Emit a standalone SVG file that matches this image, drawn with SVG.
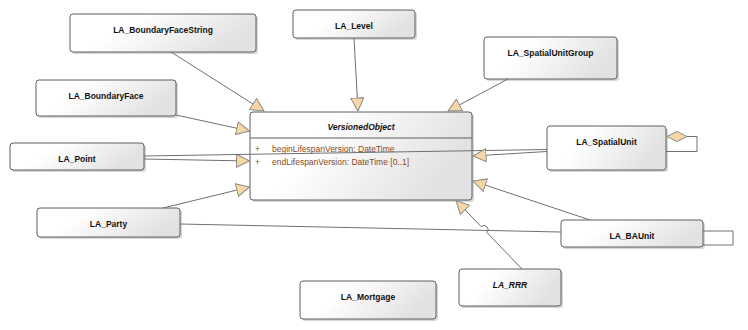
<svg xmlns="http://www.w3.org/2000/svg" width="748" height="330" viewBox="0 0 748 330">
  <defs>
    <linearGradient id="nodeFill" x1="0" y1="0" x2="1" y2="0.3">
      <stop offset="0" stop-color="#ffffff"/>
      <stop offset="0.35" stop-color="#ffffff"/>
      <stop offset="1" stop-color="#e2e2e2"/>
    </linearGradient>
    <marker id="gen" viewBox="0 0 14 14" markerWidth="14" markerHeight="14" refX="13.5" refY="7" orient="auto" markerUnits="userSpaceOnUse">
      <path d="M0.5,0.5 L13.5,7 L0.5,13.5 Z" fill="#f8d7a6" stroke="#8a8a8a" stroke-width="1"/>
    </marker>
    <style>
      .box { fill: url(#nodeFill); stroke: #5f5f5f; stroke-width: 1; }
      .shadow { fill: #d6d6d6; }
      .name { font-family: "Liberation Sans", Arial, sans-serif; font-size: 8.5px; font-weight: bold; fill: #111; text-anchor: middle; }
      .abstract { font-style: italic; }
      .attr { font-family: "Liberation Sans", Arial, sans-serif; font-size: 8.5px; fill: #8a4a1c; }
      .edge { fill: none; stroke: #707070; stroke-width: 1; }
      .gen { marker-end: url(#gen); }
    </style>
  </defs>

  <g id="LA_BoundaryFaceString">
    <rect class="shadow" x="72" y="16" width="186" height="38" rx="3"/>
    <rect class="box" x="70" y="14" width="186" height="38" rx="3"/>
    <text class="name" x="163" y="33">LA_BoundaryFaceString</text>
  </g>

  <g id="LA_Level">
    <rect class="shadow" x="295" y="12" width="122" height="28" rx="3"/>
    <rect class="box" x="293" y="10" width="122" height="28" rx="3"/>
    <text class="name" x="354" y="29">LA_Level</text>
  </g>

  <g id="LA_SpatialUnitGroup">
    <rect class="shadow" x="486" y="39" width="133" height="42" rx="3"/>
    <rect class="box" x="484" y="37" width="133" height="42" rx="3"/>
    <text class="name" x="550.5" y="56">LA_SpatialUnitGroup</text>
  </g>

  <g id="LA_BoundaryFace">
    <rect class="shadow" x="38" y="82" width="140" height="36" rx="3"/>
    <rect class="box" x="36" y="80" width="140" height="36" rx="3"/>
    <text class="name" x="106" y="99">LA_BoundaryFace</text>
  </g>

  <g id="VersionedObject">
    <rect class="shadow" x="252" y="114" width="222" height="88" rx="3"/>
    <rect class="box" x="250" y="112" width="222" height="88" rx="3"/>
    <line x1="250" y1="138" x2="472" y2="138" stroke="#5f5f5f" stroke-width="1"/>
    <text class="name abstract" x="361" y="130">VersionedObject</text>
    <text class="attr" x="255" y="152">+</text>
    <text class="attr" x="272" y="152">beginLifespanVersion: DateTime</text>
    <text class="attr" x="255" y="165">+</text>
    <text class="attr" x="272" y="165">endLifespanVersion: DateTime [0..1]</text>
  </g>

  <g id="LA_Point">
    <rect class="shadow" x="12" y="145" width="134" height="27" rx="3"/>
    <rect class="box" x="10" y="143" width="134" height="27" rx="3"/>
    <text class="name" x="77" y="162">LA_Point</text>
  </g>

  <g id="LA_SpatialUnit">
    <rect class="shadow" x="549" y="128" width="119" height="44" rx="3"/>
    <rect class="box" x="547" y="126" width="119" height="44" rx="3"/>
    <text class="name" x="606.5" y="145">LA_SpatialUnit</text>
  </g>

  <g id="LA_Party">
    <rect class="shadow" x="39" y="210" width="143" height="29" rx="3"/>
    <rect class="box" x="37" y="208" width="143" height="29" rx="3"/>
    <text class="name" x="108.5" y="227">LA_Party</text>
  </g>

  <g id="LA_BAUnit">
    <rect class="shadow" x="563" y="222" width="142" height="27" rx="3"/>
    <rect class="box" x="561" y="220" width="142" height="27" rx="3"/>
    <text class="name" x="632" y="239">LA_BAUnit</text>
  </g>

  <g id="LA_RRR">
    <rect class="shadow" x="461" y="271" width="102" height="37" rx="3"/>
    <rect class="box" x="459" y="269" width="102" height="37" rx="3"/>
    <text class="name abstract" x="510" y="288">LA_RRR</text>
  </g>

  <g id="LA_Mortgage">
    <rect class="shadow" x="302" y="283" width="136" height="38" rx="3"/>
    <rect class="box" x="300" y="281" width="136" height="38" rx="3"/>
    <text class="name" x="368" y="300">LA_Mortgage</text>
  </g>

  <!-- connectors, drawn above the class boxes -->
  <g id="connectors">
    <path class="edge gen" d="M171,52 L264,111"/>
    <path class="edge gen" d="M354,38 L358,111"/>
    <path class="edge gen" d="M508,79 L448,111"/>
    <path class="edge gen" d="M176,115 L249.5,131"/>
    <path class="edge gen" d="M144,159 L249.5,161"/>
    <path class="edge" d="M144,156 L547,149.5"/>
    <path class="edge gen" d="M547,151.5 L473,156"/>
    <path class="edge gen" d="M590,220 L473,181"/>
    <path class="edge gen" d="M163,208 L249.5,187"/>
    <path class="edge" d="M180,224 L561,232"/>
    <path class="edge gen" d="M522,269 L486.8,232.4 A4,4 0 0 0 481.2,226.6 L456,200.5"/>
    <!-- LA_SpatialUnit self aggregation -->
    <path d="M667,136.5 L677,131.5 L687,136.5 L677,141.5 Z" fill="#f8d7a6" stroke="#8a8a8a" stroke-width="1"/>
    <path class="edge" d="M687,136.5 L697,136.5 L697,151.5 L666,151.5"/>
    <!-- LA_BAUnit self association -->
    <path class="edge" d="M703,231 L733,231 L733,245 L703,245"/>
  </g>
</svg>
